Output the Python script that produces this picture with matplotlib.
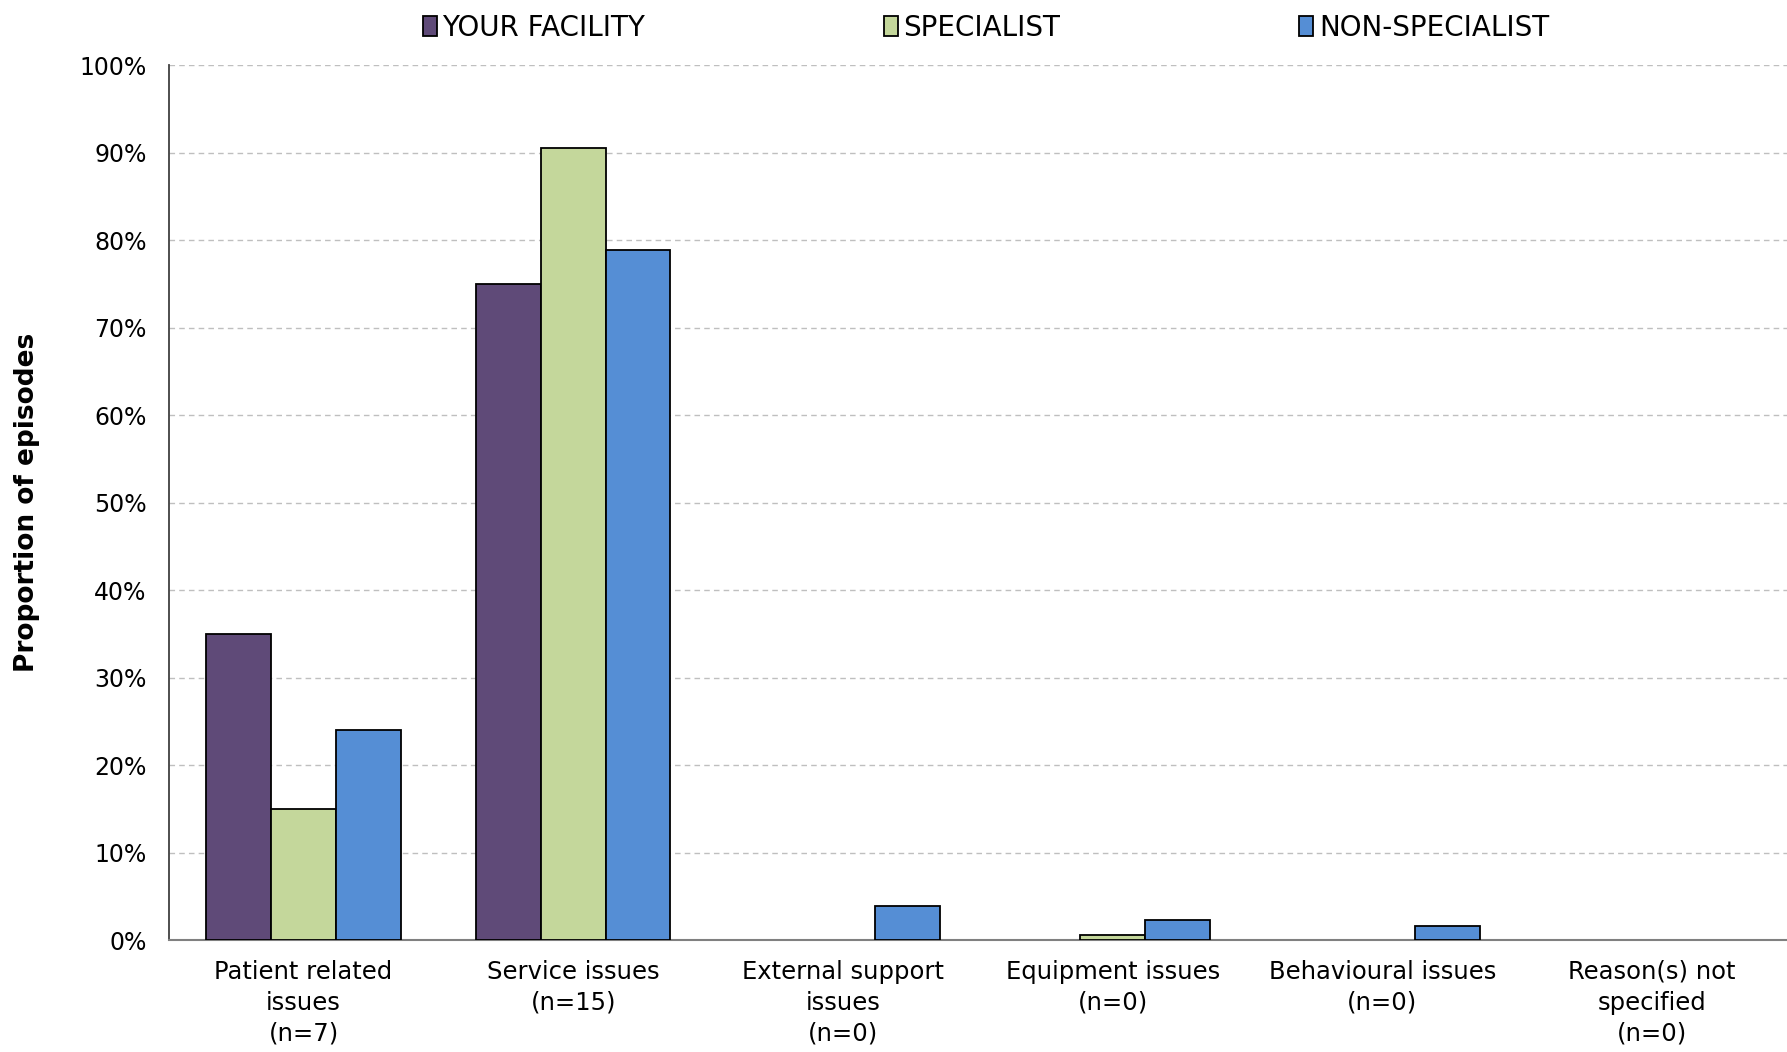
import numpy as np
import matplotlib
matplotlib.use('Agg')
import matplotlib.pyplot as plt
from matplotlib.ticker import PercentFormatter

categories = ['Patient related\nissues\n(n=7)', 'Service issues\n(n=15)',
              'External support\nissues\n(n=0)', 'Equipment issues\n(n=0)',
              'Behavioural issues\n(n=0)', 'Reason(s) not\nspecified\n(n=0)']
series_names = ['YOUR FACILITY', 'SPECIALIST', 'NON-SPECIALIST']
your_facility = [35.0, 75.0, 0.0, 0.0, 0.0, 0.0]
specialist = [15.0, 90.5, 0.0, 0.6, 0.0, 0.0]
non_specialist = [24.1, 78.9, 3.9, 2.3, 1.6, 0.0]
colors = ['#5F4A78', '#C4D79B', '#558ED5']

plt.rcParams['font.family'] = 'DejaVu Sans'

fig = plt.figure(figsize=(17.87, 10.52), dpi=100)
ax = fig.add_axes([0.0944, 0.106, 0.9056, 0.832])

x = np.arange(len(categories))
w = 0.24
for i, (vals, name) in enumerate(zip([your_facility, specialist, non_specialist], series_names)):
    # no outline on empty bars
    edges = ['black' if v > 0 else 'none' for v in vals]
    ax.bar(x + (i - 1) * w, vals, width=w, color=colors[i], edgecolor=edges,
           linewidth=1.3, label=name, zorder=3)

ax.set_xlim(-0.5, len(categories) - 0.5)
ax.set_ylim(0, 100)
ax.set_yticks(range(0, 101, 10))
ax.yaxis.set_major_formatter(PercentFormatter(decimals=0))
ax.grid(axis='y', linestyle=(0, (4, 3)), color='#BFBFBF', linewidth=1.0, zorder=0)
ax.set_xticks(x)
ax.set_xticklabels(categories, fontsize=17.5, linespacing=1.35)
ax.tick_params(axis='x', length=0, pad=14)
ax.tick_params(axis='y', length=0, labelsize=17, pad=16)
for s in ['top', 'right']:
    ax.spines[s].set_visible(False)
ax.spines['left'].set_color('#404040')
ax.spines['left'].set_linewidth(1.3)
ax.spines['bottom'].set_color('#808080')
ax.spines['bottom'].set_linewidth(1.5)

ax.set_ylabel('Proportion of episodes', fontsize=19, fontweight='bold', labelpad=28)

leg = ax.legend(loc='center', bbox_to_anchor=(0.505, 1.043), ncol=3, frameon=False,
                fontsize=20, handlelength=0.5, handleheight=0.75, handletextpad=0.2,
                columnspacing=8.6)
for h in leg.legend_handles:
    h.set_edgecolor('black')

fig.savefig('out.png', dpi=100)
